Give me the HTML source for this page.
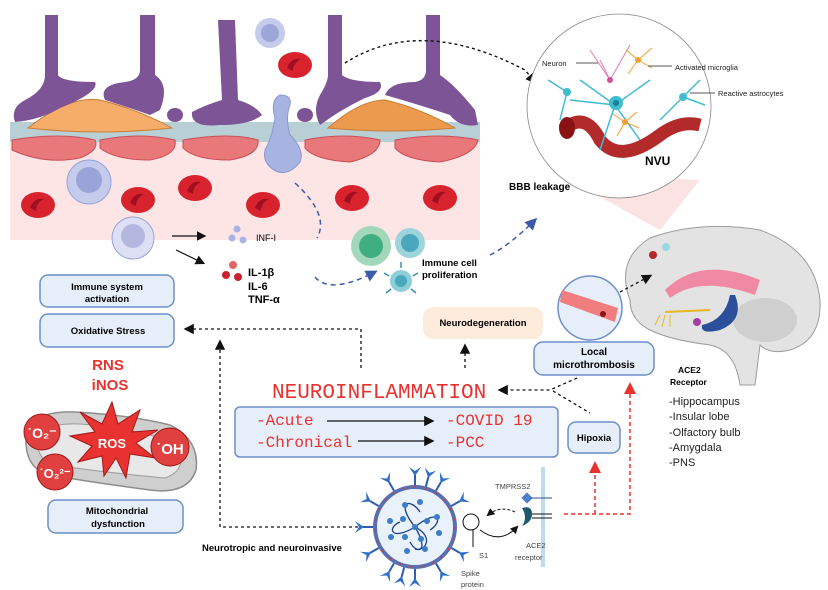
<!DOCTYPE html>
<html><head><meta charset="utf-8"><style>
html,body{margin:0;padding:0;background:#fff;width:828px;height:590px;overflow:hidden}
svg{display:block}
text{font-family:"Liberation Sans",sans-serif}
text.m{font-family:"Liberation Mono",monospace;fill:#e8322f}
</style></head><body>
<svg width="828" height="590" viewBox="0 0 828 590" xmlns="http://www.w3.org/2000/svg">
<defs>
<marker id="ab" markerWidth="8" markerHeight="8" refX="6" refY="4" orient="auto"><path d="M0,0 L8,4 L0,8z" fill="#111"/></marker>
<marker id="ar" markerWidth="8" markerHeight="8" refX="6" refY="4" orient="auto"><path d="M0,0 L8,4 L0,8z" fill="#e8322f"/></marker>
<marker id="abl" markerWidth="8" markerHeight="8" refX="6" refY="4" orient="auto"><path d="M0,0 L8,4 L0,8z" fill="#3d5aa8"/></marker>
<g id="rbc"><ellipse rx="17" ry="13" fill="#d8232f"/><path d="M-8,3 Q-4,-8 6,-6 Q-2,-2 -2,6z" fill="#9e1020"/></g>
<g id="sp"><line x1="0" y1="0" x2="0" y2="-10" stroke="#2e5db0" stroke-width="2"/><path d="M-6,-18 L0,-9 L6,-18 L0,-14z" fill="#2e6ec8"/></g>
</defs>

<!-- vessel band -->
<rect x="10" y="140" width="470" height="100" fill="#fde5e5"/>
<rect x="10" y="122" width="470" height="20" fill="#b9cfd6"/>
<g fill="#e8787a" stroke="#c9505a" stroke-width="1">
<path d="M12,140 Q60,132 95,140 Q100,150 80,158 Q45,165 12,150z"/>
<path d="M100,140 Q140,132 175,140 Q178,155 150,160 Q115,160 100,148z"/>
<path d="M183,140 Q230,132 258,140 Q260,155 230,160 Q195,160 183,148z"/>
<path d="M305,140 Q345,132 380,140 Q380,155 350,162 Q315,160 305,148z"/>
<path d="M395,140 Q440,132 478,140 Q475,155 440,162 Q405,160 395,148z"/>
</g>
<path d="M28,128 Q70,95 100,100 Q140,110 172,128 Q100,136 28,128z" fill="#f6ad6a" stroke="#c97d34"/>
<path d="M328,128 Q360,100 385,100 Q420,108 455,128 Q390,134 328,128z" fill="#ec9a4e" stroke="#c97d34"/>
<g fill="#7d5496">
<path d="M45,15 H58 V75 Q62,82 95,82 Q100,92 60,108 Q40,120 15,122 Q10,108 25,100 Q45,90 45,75z"/>
<path d="M140,15 H155 V75 Q170,85 160,110 L150,115 Q130,108 105,100 Q98,85 125,82 Q140,80 140,70z"/>
<path d="M218,20 H235 L238,100 Q255,105 262,115 Q250,125 220,125 Q190,128 192,112 Q205,105 222,100z"/>
<path d="M328,15 H342 V75 Q350,82 380,82 Q385,92 365,98 Q340,110 320,125 Q312,110 320,95 Q328,82 328,75z"/>
<path d="M426,15 H440 V75 Q455,85 475,110 L478,125 Q460,128 450,115 Q420,105 385,95 Q390,82 415,82 Q426,80 426,70z"/>
<ellipse cx="175" cy="115" rx="8" ry="7"/><ellipse cx="305" cy="115" rx="8" ry="7"/>
</g>
<path d="M280,95 Q292,95 290,105 Q285,118 290,135 Q305,150 300,162 Q290,175 278,172 Q262,165 265,150 Q272,138 275,118 Q270,100 280,95z" fill="#a7b3e0" stroke="#8a98d0"/>
<circle cx="270" cy="33" r="15" fill="#c5cbec"/><circle cx="270" cy="33" r="9" fill="#9da6d9"/>
<use href="#rbc" x="295" y="65"/>
<use href="#rbc" x="38" y="205"/><use href="#rbc" x="138" y="200"/><use href="#rbc" x="195" y="188"/>
<use href="#rbc" x="263" y="205"/><use href="#rbc" x="352" y="198"/><use href="#rbc" x="440" y="198"/>
<circle cx="89" cy="182" r="22" fill="#c5cbec" stroke="#99a3d6"/><circle cx="89" cy="180" r="13" fill="#9ba4d8"/>
<circle cx="133" cy="238" r="21" fill="#dde0f4" stroke="#99a3d6"/><circle cx="133" cy="236" r="12" fill="#b3b7e0"/>
<line x1="172" y1="236" x2="204" y2="236" stroke="#111" stroke-width="1.2" marker-end="url(#ab)"/>
<line x1="176" y1="250" x2="203" y2="263" stroke="#111" stroke-width="1.2" marker-end="url(#ab)"/>
<circle cx="237" cy="229" r="3.5" fill="#a9b3e6"/><circle cx="232" cy="238" r="3.5" fill="#a9b3e6"/><circle cx="243" cy="240" r="3.5" fill="#a9b3e6"/>
<text x="256" y="241" font-size="9">INF-I</text>
<circle cx="233" cy="265" r="4" fill="#e06666"/><circle cx="226" cy="275" r="4" fill="#c8232f"/><circle cx="238" cy="277" r="4" fill="#c8232f"/>
<g font-size="11" font-weight="bold"><text x="248" y="276">IL-1β</text><text x="248" y="290">IL-6</text><text x="248" y="303">TNF-α</text></g>
<circle cx="371" cy="246" r="20" fill="#a3d7b9"/><circle cx="371" cy="246" r="12" fill="#3fae80"/>
<circle cx="410" cy="243" r="15" fill="#9dd4dc"/><circle cx="410" cy="243" r="9" fill="#4aa7bc"/>
<circle cx="401" cy="281" r="11" fill="#8ccfd9"/><circle cx="401" cy="281" r="6" fill="#4aa7bc"/>
<g stroke="#3a8fb0" stroke-width="1.5"><line x1="401" y1="268" x2="401" y2="262"/><line x1="389" y1="276" x2="384" y2="273"/><line x1="413" y1="276" x2="418" y2="273"/><line x1="391" y1="289" x2="386" y2="293"/><line x1="411" y1="289" x2="416" y2="293"/></g>
<text x="422" y="266" font-size="9.5" font-weight="bold">Immune cell</text>
<text x="422" y="278" font-size="9.5" font-weight="bold">proliferation</text>
<path d="M295,183 Q330,215 317,238" fill="none" stroke="#3d5aa8" stroke-width="1.5" stroke-dasharray="5,4"/>
<path d="M315,277 Q330,295 375,272" fill="none" stroke="#3d5aa8" stroke-width="1.5" stroke-dasharray="5,4" marker-end="url(#abl)"/>
<path d="M490,255 Q510,245 535,220" fill="none" stroke="#3d5aa8" stroke-width="1.5" stroke-dasharray="5,4" marker-end="url(#abl)"/>
<path d="M345,63 Q420,15 525,70 L535,82" fill="none" stroke="#111" stroke-width="1.4" stroke-dasharray="3,3" marker-end="url(#ab)"/>

<!-- NVU -->
<path d="M560,175 L700,180 L660,230z" fill="#fbd7d7" opacity=".7"/>
<circle cx="619" cy="106" r="92" fill="#fff" stroke="#888" stroke-width=".8"/>
<path d="M563,130 Q585,110 600,140 Q620,165 660,135 Q680,120 700,125" fill="none" stroke="#b22a2a" stroke-width="13"/>
<ellipse cx="567" cy="128" rx="8" ry="11" fill="#8a1212"/>
<g stroke="#3fbcd0" stroke-width="1.5" fill="none">
<path d="M615,105 L580,80 M615,105 L650,80 M615,105 L600,150 M615,105 L640,140 M615,105 L570,100 M567,92 L548,80 M567,92 L560,120 M683,97 L700,80 M683,97 L705,105 M683,97 L660,120"/>
</g>
<g stroke="#e07fb0" stroke-width="1" fill="none"><path d="M610,80 L590,50 M610,80 L630,45 M610,80 L600,60"/></g>
<g stroke="#f0a030" stroke-width="1" fill="none"><path d="M638,60 l-12,-10 m12,10 l14,-12 m-14,12 l-10,14 m10,-14 l14,8 M625,122 l-12,-8 m12,8 l12,-10 m-12,10 l-8,14 m8,-14 l14,6"/></g>
<circle cx="616" cy="103" r="7" fill="#3fbcd0"/><circle cx="616" cy="103" r="3" fill="#1a7f9c"/>
<circle cx="567" cy="92" r="4" fill="#3fbcd0"/><circle cx="683" cy="97" r="4" fill="#3fbcd0"/>
<circle cx="610" cy="80" r="3" fill="#d04f9a"/><circle cx="638" cy="60" r="3" fill="#f0a030"/><circle cx="625" cy="122" r="3" fill="#f0a030"/>
<g font-size="7.5" fill="#222"><text x="542" y="66">Neuron</text><text x="675" y="70">Activated microglia</text><text x="718" y="96">Reactive astrocytes</text></g>
<g stroke="#222" stroke-width=".7"><line x1="576" y1="63" x2="598" y2="63"/><line x1="648" y1="66" x2="672" y2="66"/><line x1="690" y1="93" x2="715" y2="93"/></g>
<text x="645" y="165" font-size="12" font-weight="bold">NVU</text>
<text x="509" y="190" font-size="10" font-weight="bold">BBB leakage</text>

<!-- brain -->
<path d="M630,300 Q615,260 650,238 Q700,220 760,230 Q815,250 820,300 Q822,340 790,350 Q770,355 760,345 L755,385 L740,385 Q735,350 710,345 Q670,340 650,330 Q630,320 630,300z" fill="#e3e3e3" stroke="#9c9c9c"/>
<path d="M665,290 Q700,255 760,280 L755,295 Q700,275 670,298z" fill="#f08aa4"/>
<ellipse cx="765" cy="320" rx="32" ry="22" fill="#cfcfcf"/>
<path d="M735,295 Q745,320 720,330 Q700,335 702,325 Q725,320 730,295z" fill="#2b4f9a"/>
<circle cx="697" cy="322" r="4" fill="#a23fa0"/>
<path d="M665,312 L710,310" stroke="#e8b820" stroke-width="2"/>
<path d="M660,315 l-5,10 m10,-10 l-3,12 m8,-12 l0,12" stroke="#e8b820" stroke-width="1" fill="none"/>
<circle cx="666" cy="247" r="4" fill="#9ad7e2"/>
<circle cx="653" cy="255" r="4" fill="#b22a2a"/>
<text x="678" y="373" font-size="8.5" font-weight="bold">ACE2</text>
<text x="670" y="385" font-size="8.5" font-weight="bold">Receptor</text>
<g font-size="11" fill="#222"><text x="669" y="405">-Hippocampus</text><text x="669" y="420">-Insular lobe</text><text x="669" y="436">-Olfactory bulb</text><text x="669" y="451">-Amygdala</text><text x="669" y="466">-PNS</text></g>

<!-- microthrombosis -->
<circle cx="590" cy="308" r="32" fill="#e6eefa" stroke="#6d8fc9" stroke-width="1.5"/>
<path d="M562,290 L618,308 L615,322 L560,302z" fill="#f07e7e"/>
<circle cx="603" cy="314" r="3" fill="#8a1212"/>
<line x1="620" y1="292" x2="650" y2="276" stroke="#111" stroke-width="1.3" stroke-dasharray="3,3" marker-end="url(#ab)"/>
<rect x="534" y="342" width="120" height="33" rx="9" fill="#e6eefa" stroke="#6d8fc9" stroke-width="1.5"/>
<text x="594" y="355" font-size="10" font-weight="bold" text-anchor="middle">Local</text>
<text x="594" y="368" font-size="10" font-weight="bold" text-anchor="middle">microthrombosis</text>
<rect x="568" y="422" width="52" height="31" rx="8" fill="#e6eefa" stroke="#6d8fc9" stroke-width="1.5"/>
<text x="594" y="441" font-size="9.5" font-weight="bold" text-anchor="middle">Hipoxia</text>

<!-- left boxes -->
<rect x="40" y="275" width="134" height="32" rx="8" fill="#e6eefa" stroke="#6d8fc9" stroke-width="1.5"/>
<text x="107" y="290" font-size="9.5" font-weight="bold" text-anchor="middle">Immune system</text>
<text x="107" y="302" font-size="9.5" font-weight="bold" text-anchor="middle">activation</text>
<rect x="40" y="314" width="134" height="33" rx="8" fill="#e6eefa" stroke="#6d8fc9" stroke-width="1.5"/>
<text x="108" y="334" font-size="9.5" font-weight="bold" text-anchor="middle">Oxidative Stress</text>
<text x="108" y="370" font-size="15" font-weight="bold" fill="#e8322f" text-anchor="middle">RNS</text>
<text x="110" y="390" font-size="15" font-weight="bold" fill="#e8322f" text-anchor="middle">iNOS</text>
<!-- mitochondria -->
<path d="M26,445 Q24,410 75,412 Q130,415 170,425 Q200,440 196,470 Q188,495 150,490 Q90,482 50,475 Q28,470 26,445z" fill="#cfcfcf" stroke="#8d8d8d" stroke-width="1.5"/>
<path d="M38,445 Q38,422 80,424 Q140,428 178,445 Q188,470 165,478 Q100,472 55,465 Q38,460 38,445z" fill="#e8e8e8" stroke="#9a9a9a"/>
<polygon points="112,402 118,424 140,410 132,432 158,430 136,443 155,458 130,454 126,478 116,458 104,476 102,456 78,462 92,446 70,436 95,432 80,412 102,424" fill="#e8322f" stroke="#a01818"/>
<text x="112" y="448" font-size="13" font-weight="bold" fill="#fff" text-anchor="middle">ROS</text>
<circle cx="42" cy="432" r="18" fill="#e04040" stroke="#a01818"/><text x="42" y="438" font-size="14" font-weight="bold" fill="#fff" text-anchor="middle">˙O₂⁻</text>
<circle cx="55" cy="472" r="18" fill="#e04040" stroke="#a01818"/><text x="55" y="478" font-size="13" font-weight="bold" fill="#fff" text-anchor="middle">˙O₂²⁻</text>
<circle cx="170" cy="447" r="19" fill="#e04040" stroke="#a01818"/><text x="170" y="454" font-size="15" font-weight="bold" fill="#fff" text-anchor="middle">˙OH</text>
<rect x="48" y="500" width="135" height="33" rx="8" fill="#e6eefa" stroke="#6d8fc9" stroke-width="1.5"/>
<text x="117" y="514" font-size="9.5" font-weight="bold" text-anchor="middle">Mitochondrial</text>
<text x="118" y="527" font-size="9.5" font-weight="bold" text-anchor="middle">dysfunction</text>

<!-- neuroinflammation -->
<text x="272" y="398" class="m" font-size="21">NEUROINFLAMMATION</text>
<rect x="235" y="407" width="323" height="50" rx="5" fill="#e6eefa" stroke="#6d8fc9" stroke-width="1.5"/>
<text x="256" y="425" class="m" font-size="16">-Acute</text>
<text x="256" y="447" class="m" font-size="16">-Chronical</text>
<text x="446" y="425" class="m" font-size="16">-COVID 19</text>
<text x="446" y="447" class="m" font-size="16">-PCC</text>
<line x1="327" y1="421" x2="432" y2="421" stroke="#111" stroke-width="1.3" marker-end="url(#ab)"/>
<line x1="358" y1="441" x2="432" y2="441" stroke="#111" stroke-width="1.3" marker-end="url(#ab)"/>
<rect x="423" y="307" width="120" height="32" rx="10" fill="#fdebdc"/>
<text x="483" y="326" font-size="9.5" font-weight="bold" text-anchor="middle">Neurodegeneration</text>
<line x1="465" y1="368" x2="465" y2="346" stroke="#111" stroke-width="1.3" stroke-dasharray="3,3" marker-end="url(#ab)"/>
<path d="M361,368 V329 H186" fill="none" stroke="#111" stroke-width="1.3" stroke-dasharray="3,3" marker-end="url(#ab)"/>
<path d="M358,527 H220 V342" fill="none" stroke="#111" stroke-width="1.3" stroke-dasharray="3,3" marker-end="url(#ab)"/>
<path d="M577,378 L550,390 H500" fill="none" stroke="#111" stroke-width="1.3" stroke-dasharray="3,3" marker-end="url(#ab)"/>
<path d="M553,391 L590,413" fill="none" stroke="#111" stroke-width="1.3" stroke-dasharray="3,3"/>
<!-- red dashed -->
<path d="M564,514 H630 V385" fill="none" stroke="#e8322f" stroke-width="1.5" stroke-dasharray="4,3" marker-end="url(#ar)"/>
<path d="M595,514 V464" fill="none" stroke="#e8322f" stroke-width="1.5" stroke-dasharray="4,3" marker-end="url(#ar)"/>

<!-- virus -->
<g transform="translate(415,527)">
<g>
<use href="#sp" transform="rotate(0) translate(0,-42)"/><use href="#sp" transform="rotate(30) translate(0,-42)"/><use href="#sp" transform="rotate(60) translate(0,-42)"/><use href="#sp" transform="rotate(120) translate(0,-42)"/><use href="#sp" transform="rotate(150) translate(0,-42)"/><use href="#sp" transform="rotate(180) translate(0,-42)"/><use href="#sp" transform="rotate(210) translate(0,-42)"/><use href="#sp" transform="rotate(240) translate(0,-42)"/><use href="#sp" transform="rotate(270) translate(0,-42)"/><use href="#sp" transform="rotate(300) translate(0,-42)"/><use href="#sp" transform="rotate(330) translate(0,-42)"/><use href="#sp" transform="rotate(15) translate(0,-42)"/><use href="#sp" transform="rotate(195) translate(0,-42)"/>
</g>
<circle r="40" fill="#e9f1fb" stroke="#5a6fb0" stroke-width="4"/>
<circle r="40" fill="none" stroke="#d23a3a" stroke-width="1.5" stroke-dasharray="2,9"/>
<g fill="none" stroke="#1f3f86" stroke-width="1.3">
<path d="M0,0 C-20,-25 -5,-30 5,-15 M0,0 C25,-20 28,-5 15,3 M0,0 C15,25 2,28 -5,15 M0,0 C-25,15 -28,0 -15,-5 M0,0 C20,10 10,25 0,22"/>
</g>
<g fill="#3a7dc8"><circle cx="-10" cy="-22" r="3"/><circle cx="5" cy="-25" r="3"/><circle cx="22" cy="-10" r="3"/><circle cx="24" cy="6" r="3"/><circle cx="10" cy="22" r="3"/><circle cx="-8" cy="24" r="3"/><circle cx="-24" cy="10" r="3"/><circle cx="-25" cy="-6" r="3"/><circle cx="0" cy="0" r="3"/><circle cx="-12" cy="-8" r="3"/><circle cx="12" cy="-6" r="3"/><circle cx="6" cy="12" r="3"/><circle cx="-10" cy="10" r="3"/></g>
</g>
<circle cx="471" cy="522" r="8" fill="none" stroke="#111"/>
<line x1="473" y1="530" x2="473" y2="547" stroke="#111"/>
<text x="202" y="551" font-size="9.5" font-weight="bold">Neurotropic and neuroinvasive</text>
<text x="479" y="558" font-size="7.5" fill="#444">S1</text>
<text x="461" y="576" font-size="7.5" fill="#444">Spike</text>
<text x="461" y="587" font-size="7.5" fill="#444">protein</text>
<rect x="541" y="467" width="4" height="100" fill="#bcdcf0"/>
<text x="495" y="489" font-size="7.5" fill="#444">TMPRSS2</text>
<rect x="523" y="494" width="8" height="8" fill="#4f7fc8" transform="rotate(45 527 498)"/>
<line x1="531" y1="498" x2="552" y2="498" stroke="#2e4f9a"/>
<path d="M522,508 Q532,505 532,514 Q532,522 522,526 Q528,518 522,508z" fill="#1f5a6a"/>
<line x1="532" y1="514" x2="552" y2="514" stroke="#111" stroke-width="1"/><line x1="532" y1="518" x2="552" y2="518" stroke="#111" stroke-width="1"/>
<path d="M515,512 Q500,505 488,515" fill="none" stroke="#111" stroke-dasharray="3,2" marker-end="url(#ab)"/>
<path d="M480,530 Q500,545 517,527" fill="none" stroke="#111" marker-end="url(#ab)"/>
<text x="526" y="548" font-size="7.5" fill="#444">ACE2</text>
<text x="515" y="560" font-size="7.5" fill="#444">receptor</text>
</svg></body></html>
